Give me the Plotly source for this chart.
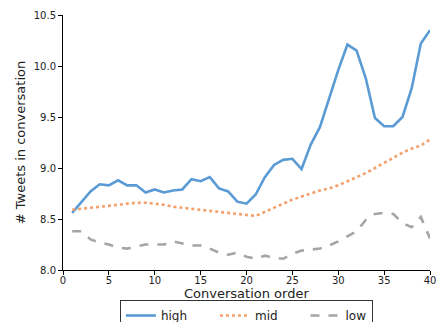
import plotly.graph_objects as go

order = list(range(1, 41))
high = [8.56, 8.66, 8.77, 8.84, 8.83, 8.88, 8.83, 8.83, 8.76, 8.79,
        8.76, 8.78, 8.79, 8.89, 8.87, 8.91, 8.80, 8.77, 8.67, 8.65,
        8.74, 8.91, 9.03, 9.08, 9.09, 8.99, 9.23, 9.40, 9.68, 9.96,
        10.21, 10.15, 9.88, 9.49, 9.41, 9.41, 9.50, 9.78, 10.22, 10.35]
mid = [8.59, 8.60, 8.61, 8.62, 8.63, 8.64, 8.65, 8.66, 8.66, 8.65,
       8.64, 8.62, 8.61, 8.60, 8.59, 8.58, 8.57, 8.56, 8.55, 8.54,
       8.53, 8.57, 8.61, 8.65, 8.69, 8.72, 8.75, 8.78, 8.80, 8.83,
       8.87, 8.91, 8.95, 9.00, 9.05, 9.10, 9.15, 9.19, 9.22, 9.28]
low = [8.38, 8.38, 8.30, 8.27, 8.25, 8.22, 8.21, 8.23, 8.25, 8.25,
       8.25, 8.28, 8.26, 8.24, 8.24, 8.21, 8.17, 8.15, 8.17, 8.13,
       8.11, 8.14, 8.12, 8.11, 8.16, 8.19, 8.20, 8.21, 8.24, 8.28,
       8.33, 8.38, 8.49, 8.55, 8.56, 8.55, 8.46, 8.42, 8.52, 8.31]

series_names = ["high", "mid", "low"]
x_ticks = [0, 5, 10, 15, 20, 25, 30, 35, 40]
y_ticks = [8.0, 8.5, 9.0, 9.5, 10.0, 10.5]
x_title = "Conversation order"
y_title = "# Tweets in conversation"

FONT = "DejaVu Sans"
NB = "\u00a0"
legend_pad = [NB * 6, NB * 6, ""]

styles = [("#5B9BD5", "solid"), ("#F4A06A", "dot"), ("#A5A5A5", "dash")]

fig = go.Figure()
for name, ys, pad, (col, dash) in zip(series_names, [high, mid, low], legend_pad, styles):
    fig.add_trace(go.Scatter(x=order, y=ys, mode="lines", name=name + pad,
                             line=dict(color=col, width=2.6, dash=dash)))

fig.add_annotation(text=x_title, xref="paper", yref="paper", x=0.5, y=-0.0902,
                   xanchor="center", yanchor="middle", showarrow=False,
                   font=dict(family=FONT, size=13, color="#222222"))

fig.update_layout(
    width=443, height=322,
    margin=dict(l=63, r=13, t=15, b=52, autoexpand=False),
    paper_bgcolor="white", plot_bgcolor="white",
    font=dict(family=FONT, size=10, color="#222222"),
    showlegend=True,
    legend=dict(orientation="h", x=0.155, xanchor="left", y=-0.1176, yanchor="top",
                bordercolor="#333333", borderwidth=1, bgcolor="white",
                font=dict(family=FONT, size=12, color="#222222"),
                tracegroupgap=0, itemwidth=30),
    xaxis=dict(range=[0, 40], tickvals=x_ticks, ticktext=[str(v) for v in x_ticks],
               showgrid=False, zeroline=False, showline=True, linecolor="black", linewidth=1,
               ticks="outside", ticklen=4, tickcolor="black", ticklabelstandoff=-3,
               tickfont=dict(family=FONT, size=10)),
    yaxis=dict(range=[8.0, 10.5], tickvals=y_ticks, ticktext=[f"{v:.1f}" for v in y_ticks],
               showgrid=False, zeroline=False, showline=True, linecolor="black", linewidth=1,
               ticks="outside", ticklen=4, tickcolor="black",
               tickfont=dict(family=FONT, size=10),
               title=dict(text=y_title, font=dict(family=FONT, size=13), standoff=5)),
)

fig.write_html("out.html", config={"displayModeBar": False},
               post_script="document.body.style.margin='0px';")
